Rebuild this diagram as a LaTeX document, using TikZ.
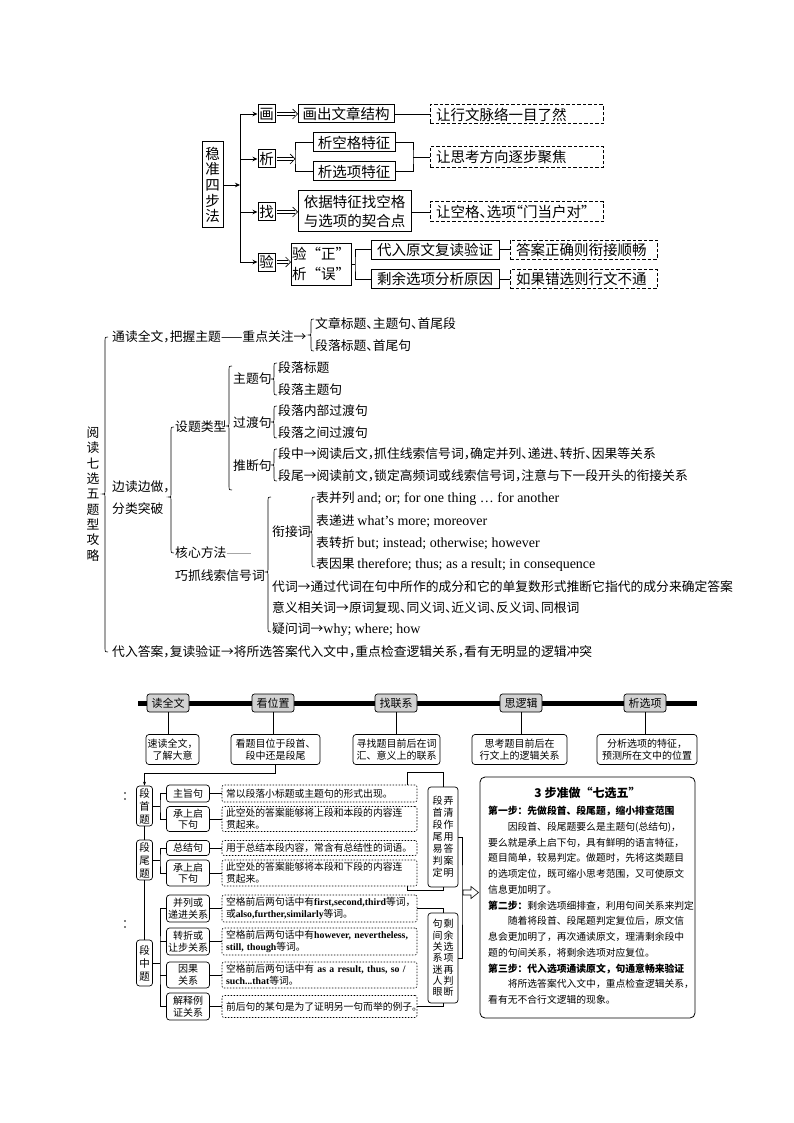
\documentclass[tikz,border=0pt]{standalone}
\usepackage{fontspec}
\setmainfont{Noto Sans CJK SC}
\newfontfamily\cjkh{Noto Sans CJK SC}[CharacterWidth=AlternateHalf]
\newfontfamily\en{Liberation Serif}
\usetikzlibrary{arrows.meta,calc}
\newcommand\engb[1]{{\en\bfseries #1}}
\newcommand\enm[1]{{\en\fontsize{14}{14}\selectfont #1}}
\newcommand\mybrace[4]{%
  \draw[brc] (#1+3,#2) .. controls (#1,#2) .. (#1,#2+3) -- (#1,#3-2.5)
    .. controls (#1,#3) .. (#1-2.5,#3) .. controls (#1,#3) .. (#1,#3+2.5)
    -- (#1,#4-3) .. controls (#1,#4) .. (#1+3,#4);}
\newcommand\dblarr[2]{%
  \draw[line width=0.7pt] ($(#1)+(1,-1.5)$) -- ($(#2)+(-2.5,-1.5)$)
    ($(#1)+(1,1.5)$) -- ($(#2)+(-2.5,1.5)$);
  \draw[line width=0.7pt] ($(#2)+(-5,-5)$) -- (#2) -- ($(#2)+(-5,5)$);}
\tikzset{
  tb/.style={draw, line width=1pt, inner sep=1pt, align=center, font=\fontsize{14.5}{16}\selectfont},
  db/.style={draw, dashed, dash pattern=on 3.5pt off 2pt, line width=1pt, inner xsep=6pt, inner ysep=0pt, align=left, font=\fontsize{14.5}{16}\selectfont},
  ln/.style={line width=0.8pt},
  tri/.style={line width=0.8pt, -{Stealth[length=5pt,width=4.5pt]}},
  brc/.style={line width=0.6pt},
  mt/.style={anchor=west, inner sep=0pt, font=\cjkh\fontsize{12.8}{14}\selectfont},
  hd/.style={draw, fill=gray!35, rounded corners=2.5pt, line width=0.7pt, minimum width=42pt, minimum height=18pt, inner sep=1pt, font=\fontsize{11}{13}\selectfont},
  ds/.style={draw, rounded corners=3pt, line width=0.7pt, align=center, inner sep=1pt, minimum height=30pt, font=\fontsize{10}{12.5}\selectfont},
  gb/.style={draw, rounded corners=3pt, line width=0.7pt, align=center, inner sep=1pt, minimum width=16pt, font=\fontsize{10.5}{13}\selectfont},
  sb/.style={draw, rounded corners=3pt, line width=0.7pt, align=center, inner sep=0.5pt, minimum width=43pt, font=\fontsize{10}{11.5}\selectfont},
  eb/.style={draw, dashed, dash pattern=on 1.5pt off 1.5pt, rounded corners=2pt, line width=0.6pt, text width=187pt, align=left, inner xsep=4pt, inner ysep=0pt, font=\fontsize{9.8}{12}\selectfont},
  vb/.style={draw, rounded corners=3pt, line width=0.7pt, align=center, inner sep=0pt, minimum width=30pt},
  bl/.style={line width=0.6pt}
}
\begin{document}
\begin{tikzpicture}[x=1pt,y=-1pt]
\useasboundingbox (0,0) rectangle (794,1123);
\fill[white] (0,0) rectangle (794,1123);

% ================= TOP =================
\node[tb, minimum width=21pt, minimum height=86pt, font=\fontsize{14.5}{15.6}\selectfont] (wz) at (212.5,185) {稳\\准\\四\\步\\法};
\coordinate (tr) at (240,185);
\node[tb, minimum width=17pt, minimum height=18pt] (hua) at (266.5,114) {画};
\node[tb, minimum width=17pt, minimum height=18pt] (xi) at (266.5,159) {析};
\node[tb, minimum width=17pt, minimum height=18pt] (zhao) at (266.5,212) {找};
\node[tb, minimum width=17pt, minimum height=18pt] (yan) at (266.5,262) {验};
\draw[tri] (wz.east) -- (tr);
\draw[ln] (tr |- hua) -- (tr |- yan);
\foreach \n in {hua,xi,zhao,yan} \draw[tri] (tr |- \n) -- (\n.west);

\node[tb, minimum width=96pt, minimum height=18pt] (hc) at (346,114) {画出文章结构};
\node[tb, minimum width=82pt, minimum height=19pt] (xk) at (354,142.5) {析空格特征};
\node[tb, minimum width=82pt, minimum height=19pt] (xx) at (354,171.5) {析选项特征};
\node[tb, minimum width=113pt, minimum height=41pt, font=\fontsize{14.5}{19.5}\selectfont] (yj) at (354.5,211.5) {依据特征找空格\\与选项的契合点};
\node[tb, minimum width=52pt, minimum height=42pt, font=\fontsize{14.5}{20}\selectfont] (yz) at (321,264) {验“正”\\析“误”};
\node[tb, minimum width=128pt, minimum height=19pt] (dr) at (435,249.5) {代入原文复读验证};
\node[tb, minimum width=128pt, minimum height=19pt] (sy) at (435,279) {剩余选项分析原因};

\node[db, text width=161pt, minimum height=19pt] (d1) at (516.5,114.5) {让行文脉络一目了然};
\node[db, text width=161pt, minimum height=21pt] (d2) at (516.5,157) {让思考方向逐步聚焦};
\node[db, text width=161pt, minimum height=20pt, font=\cjkh\fontsize{14.5}{16}\selectfont] (d3) at (516.5,212) {让空格、选项“门当户对”};
\node[db, text width=135pt, minimum height=19pt] (d4) at (583.5,249.5) {答案正确则衔接顺畅};
\node[db, text width=135pt, minimum height=19pt] (d5) at (583.5,279) {如果错选则行文不通};

\dblarr{hua.east}{hc.west}
\coordinate (b1) at (295,157);
\coordinate (xe) at (b1 |- xi.east);
\dblarr{xi.east}{xe}
\draw[ln] (xk.west) -| (b1) |- (xx.west);
\coordinate (ze) at (yj.west |- zhao.east);
\dblarr{zhao.east}{ze}
\coordinate (ye) at (yz.west |- yan.east);
\dblarr{yan.east}{ye}
\coordinate (b2) at (355,264);
\draw[ln] (yz.east |- b2) -- (b2);
\draw[ln] (dr.west) -| (b2) |- (sy.west);

\draw[ln] (hc.east) -- (d1.west |- hc.east);
\coordinate (j1) at (413,157);
\draw[ln] (xk.east) -| (j1) |- (xx.east);
\draw[ln] (j1) -- (d2.west);
\draw[ln] (yj.east |- d3.west) -- (d3.west);
\draw[ln] (dr.east) -- (d4.west);
\draw[ln] (sy.east) -- (d5.west);

% ================= MIDDLE =================
\node[inner sep=0pt, align=center, font=\cjkh\fontsize{12.8}{15.3}\selectfont] (yd) at (93,494) {阅\\读\\七\\选\\五\\题\\型\\攻\\略};
\mybrace{105}{337}{494}{652}
\node[mt] (m1) at (112,337) {通读全文，把握主题——重点关注→};
\mybrace{311}{319}{335}{351}
\node[mt] (m1a) at (315,324) {文章标题、主题句、首尾段};
\node[mt] (m1b) at (315,346) {段落标题、首尾句};

\node[mt] (m2) at (112,487) {边读边做，};
\node[mt] (m2b) at (112,509) {分类突破};
\mybrace{171}{427}{497}{553}
\node[mt] (st) at (175,427) {设题类型};
\mybrace{229}{366}{426}{490}
\node[mt] (zt) at (233,379) {主题句};
\mybrace{274}{363}{379}{395}
\node[mt] at (278,368) {段落标题};
\node[mt] at (278,390) {段落主题句};
\node[mt] (gd) at (233,423) {过渡句};
\mybrace{274}{406}{422}{438}
\node[mt] at (278,411) {段落内部过渡句};
\node[mt] at (278,433) {段落之间过渡句};
\node[mt] (td) at (233,466) {推断句};
\mybrace{274}{449}{465}{481}
\node[mt] at (278,454) {段中→阅读后文，抓住线索信号词，确定并列、递进、转折、因果等关系};
\node[mt] at (278,476) {段尾→阅读前文，锁定高频词或线索信号词，注意与下一段开头的衔接关系};

\node[mt] (hx) at (175,553) {核心方法};
\draw[gray!70, line width=0.9pt] (hx.east) -- ++(24,0);
\node[mt] (qz) at (175,576) {巧抓线索信号词};
\mybrace{268}{497}{572}{632}
\node[mt] (xj) at (272,532) {衔接词};
\mybrace{312}{497}{532}{567}
\node[mt] at (316,499) {表并列 \enm{and; or; for one thing … for another}};
\node[mt] at (316,521) {表递进 \enm{what’s more; moreover}};
\node[mt] at (316,543) {表转折 \enm{but; instead; otherwise; however}};
\node[mt] at (316,565) {表因果 \enm{therefore; thus; as a result; in consequence}};
\node[mt] at (272,587) {代词→通过代词在句中所作的成分和它的单复数形式推断它指代的成分来确定答案};
\node[mt] at (272,608) {意义相关词→原词复现、同义词、近义词、反义词、同根词};
\node[mt] at (272,630) {疑问词→\enm{why; where; how}};
\node[mt] (m3) at (112,652) {代入答案，复读验证→将所选答案代入文中，重点检查逻辑关系，看有无明显的逻辑冲突};

% ================= BOTTOM =================
\draw[line width=5pt] (138,703) -- (697,703);
\node[hd] (h1) at (168,703) {读全文};
\node[hd] (h2) at (273,703) {看位置};
\node[hd] (h3) at (396,703) {找联系};
\node[hd] (h4) at (521,703) {思逻辑};
\node[hd] (h5) at (645,703) {析选项};
\node[ds, minimum width=53pt] (s1) at (172.5,749.5) {速读全文，\\了解大意};
\node[ds, minimum width=89pt] (s2) at (275.5,749.5) {看题目位于段首、\\段中还是段尾};
\node[ds, minimum width=87pt] (s3) at (396.5,749.5) {寻找题目前后在词\\汇、意义上的联系};
\node[ds, minimum width=95pt] (s4) at (519.5,749.5) {思考题目前后在\\行文上的逻辑关系};
\node[ds, minimum width=100pt] (s5) at (647,749.5) {分析选项的特征，\\预测所在文中的位置};
\foreach \i in {1,...,5} \draw[bl] (h\i.south) -- (h\i.south |- s\i.north);

\node[gb, minimum height=40pt] (g1) at (144.5,806) {段\\首\\题};
\node[gb, minimum height=40pt] (g2) at (144.5,860) {段\\尾\\题};
\node[gb, minimum height=46pt] (g3) at (144.5,963) {段\\中\\题};
\draw[bl] (g1.south) -- (g2.north);
\draw[bl] (g2.south) -- (g3.north);
\draw[bl, -{Stealth[length=4pt,width=3pt]}] (s2.south) -- ++(0,8) -| (g1.north);

\node[sb, minimum height=17pt] (a1) at (188,793.5) {主旨句};
\node[sb, minimum height=25pt] (a2) at (188,819) {承上启\\下句};
\node[sb, minimum height=15pt] (a3) at (188,848) {总结句};
\node[sb, minimum height=26pt] (a4) at (188,873) {承上启\\下句};
\node[sb, minimum height=27pt] (a5) at (188,908.5) {并列或\\递进关系};
\node[sb, minimum height=27pt] (a6) at (188,941.5) {转折或\\让步关系};
\node[sb, minimum height=26pt] (a7) at (188,975) {因果\\关系};
\node[sb, minimum height=27pt] (a8) at (188,1006.5) {解释例\\证关系};

\coordinate (k1) at (160,806);
\coordinate (k2) at (160,860);
\coordinate (k3) at (160,963);
\draw[bl] (g1.east) -- (k1);
\draw[bl] (a1.west) -| (k1) |- (a2.west);
\draw[bl] (g2.east) -- (k2);
\draw[bl] (a3.west) -| (k2) |- (a4.west);
\draw[bl] (g3.east) -- (k3);
\draw[bl] (a5.west) -| (k3) |- (a8.west);
\draw[bl] (a6.west) -- (a6.west -| k3);
\draw[bl] (a7.west) -- (a7.west -| k3);

\node[eb, minimum height=17pt] (e1) at (319.5,793.5) {常以段落小标题或主题句的形式出现。};
\node[eb, minimum height=25pt] (e2) at (319.5,819) {此空处的答案能够将上段和本段的内容连\\贯起来。};
\node[eb, minimum height=15pt] (e3) at (319.5,848) {用于总结本段内容，常含有总结性的词语。};
\node[eb, minimum height=26pt] (e4) at (319.5,873) {此空处的答案能够将本段和下段的内容连\\贯起来。};
\node[eb, minimum height=27pt] (e5) at (319.5,908.5) {空格前后两句话中有\engb{first,second,third}等词，\\或\engb{also,further,similarly}等词。};
\node[eb, minimum height=27pt] (e6) at (319.5,941.5) {空格前后两句话中有\engb{however, nevertheless,}\\\engb{still, though}等词。};
\node[eb, minimum height=26pt] (e7) at (319.5,975) {空格前后两句话中有 \engb{as a result, thus, so /}\\\engb{such...that}等词。};
\node[eb, minimum height=22pt] (e8) at (319.5,1006.5) {前后句的某句是为了证明另一句而举的例子。};
\foreach \i in {1,...,8} \draw[bl] (a\i.east) -- (e\i.west);

\node[vb, minimum height=100pt, font=\fontsize{10}{12}\selectfont] (v1) at (443,837) {段\hspace{1pt}弄\\首\hspace{1pt}清\\段\hspace{1pt}作\\尾\hspace{1pt}用\\易\hspace{1pt}答\\判\hspace{1pt}案\\定\hspace{1pt}明};
\node[vb, minimum height=90pt, font=\fontsize{10}{11.3}\selectfont] (v2) at (443,958) {句\hspace{1pt}剩\\间\hspace{1pt}余\\关\hspace{1pt}选\\系\hspace{1pt}项\\迷\hspace{1pt}再\\人\hspace{1pt}判\\眼\hspace{1pt}断};
\draw[bl] ($(e1.north east)+(-10,0)$) -- ++(0,-12) -| (v1.north);
\draw[bl] ($(e4.south east)+(-10,0)$) -- ++(0,4) -| (v1.south);
\draw[bl] (e5.east) -| (v2.north);
\draw[bl] (e8.east) -| (v2.south);
\coordinate (rr) at (462,892);
\draw[bl] (v1.east) -| (rr) |- (v2.east);

\node[draw, rounded corners=5pt, line width=0.8pt, minimum width=215pt, minimum height=241pt] (bb) at (587.5,897.5) {};
\draw[bl, fill=white] (463,890) -- (471,890) -- (471,886.5) -- (478.5,892.5) -- (471,898.5) -- (471,895) -- (463,895) -- cycle;
\node[font=\bfseries\fontsize{12}{14}\selectfont, inner sep=0pt] (tt) at (bb.north |- 0,793) {3 步准做“七选五”};
\node[anchor=north west, inner sep=0pt, align=left, font=\fontsize{9.8}{15.75}\selectfont] (bt) at (488,806) {%
\textbf{第一步：先做段首、段尾题，缩小排查范围}\\
\hspace*{2em}因段首、段尾题要么是主题句(总结句)，\\
要么就是承上启下句，具有鲜明的语言特征，\\
题目简单，较易判定。做题时，先将这类题目\\
的选项定位，既可缩小思考范围，又可使原文\\
信息更加明了。\\
\textbf{第二步：}剩余选项细排查，利用句间关系来判定\\
\hspace*{2em}随着将段首、段尾题判定复位后，原文信\\
息会更加明了，再次通读原文，理清剩余段中\\
题的句间关系，将剩余选项对应复位。\\
\textbf{第三步：代入选项通读原文，句通意畅来验证}\\
\hspace*{2em}将所选答案代入文中，重点检查逻辑关系，\\
看有无不合行文逻辑的现象。};

\fill (125,793) circle (0.9) (125,799) circle (0.9);
\fill (125,921) circle (0.9) (125,927) circle (0.9);
\end{tikzpicture}
\end{document}
